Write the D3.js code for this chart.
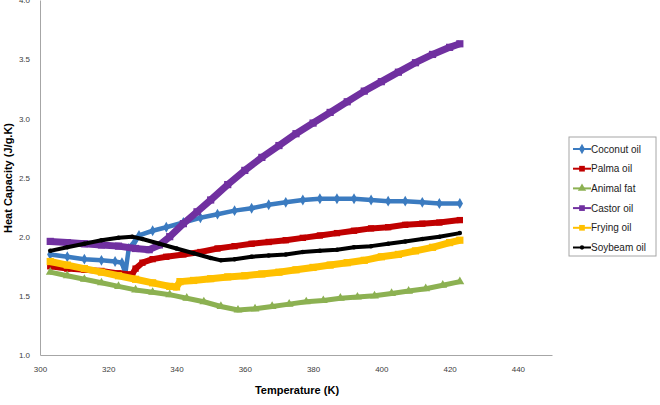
<!DOCTYPE html>
<html>
<head>
<meta charset="utf-8">
<script src="https://cdn.jsdelivr.net/npm/d3@7"></script>
<style>
  html, body { margin: 0; padding: 0; background: #fff; }
  svg { display: block; font-family: "Liberation Sans", Arial, sans-serif; }
</style>
</head>
<body>
<div id="chart"></div>
<script>
// ── Datos ──────────────────────────────────────
const xTicks = [300, 320, 340, 360, 380, 400, 420, 440];
const yTicks = [1.0, 1.5, 2.0, 2.5, 3.0, 3.5, 4.0];

const coconutT = [303, 308, 313, 318, 322, 324, 325, 326, 328, 329, 333, 337, 342, 347, 352, 357, 362, 367, 372, 377, 382, 387, 392, 397, 402, 407, 412, 417, 423];
const coconutV = [1.85, 1.83, 1.81, 1.80, 1.79, 1.78, 1.69, 1.90, 1.97, 2.01, 2.05, 2.08, 2.12, 2.16, 2.19, 2.22, 2.24, 2.27, 2.29, 2.31, 2.32, 2.32, 2.32, 2.31, 2.30, 2.30, 2.29, 2.28, 2.28];

const palmaT = [303, 308, 313, 318, 323, 327, 328, 330, 333, 337, 342, 347, 352, 357, 362, 367, 372, 377, 382, 387, 392, 397, 402, 407, 412, 417, 423];
const palmaV = [1.75, 1.73, 1.72, 1.71, 1.69, 1.68, 1.73, 1.78, 1.81, 1.83, 1.85, 1.87, 1.90, 1.92, 1.94, 1.955, 1.97, 1.99, 2.01, 2.03, 2.05, 2.07, 2.08, 2.10, 2.11, 2.12, 2.14];

const animalT = [303, 308, 313, 318, 323, 328, 333, 338, 343, 348, 353, 358, 363, 368, 373, 378, 383, 388, 393, 398, 403, 408, 413, 418, 423];
const animalV = [1.70, 1.67, 1.64, 1.61, 1.58, 1.55, 1.53, 1.51, 1.48, 1.45, 1.41, 1.38, 1.39, 1.41, 1.43, 1.45, 1.46, 1.48, 1.49, 1.50, 1.52, 1.54, 1.56, 1.59, 1.62];

const castorT = [303, 308, 313, 318, 323, 328, 332, 335, 338, 342, 346, 350, 355, 360, 365, 370, 375, 380, 385, 390, 395, 400, 405, 410, 415, 420, 423];
const castorV = [1.96, 1.95, 1.94, 1.93, 1.92, 1.90, 1.89, 1.93, 2.00, 2.11, 2.21, 2.31, 2.44, 2.56, 2.67, 2.77, 2.87, 2.96, 3.05, 3.14, 3.23, 3.31, 3.39, 3.47, 3.54, 3.60, 3.63];

const fryingT = [303, 308, 313, 318, 323, 328, 333, 338, 340, 341, 345, 350, 355, 360, 365, 370, 375, 380, 385, 390, 395, 400, 405, 410, 415, 420, 423];
const fryingV = [1.79, 1.76, 1.73, 1.70, 1.67, 1.64, 1.61, 1.58, 1.575, 1.62, 1.63, 1.645, 1.66, 1.67, 1.685, 1.70, 1.72, 1.74, 1.76, 1.78, 1.80, 1.83, 1.85, 1.88, 1.91, 1.95, 1.97];

const soyT = [303, 308, 313, 318, 323, 327, 330, 335, 340, 345, 350, 353, 357, 362, 367, 372, 377, 382, 387, 392, 397, 402, 407, 412, 417, 423];
const soyV = [1.88, 1.91, 1.94, 1.97, 1.99, 2.00, 1.98, 1.94, 1.90, 1.86, 1.82, 1.80, 1.81, 1.83, 1.84, 1.85, 1.87, 1.88, 1.89, 1.91, 1.92, 1.94, 1.96, 1.98, 2.00, 2.03];

const seriesNames = ["Coconut oil", "Palma oil", "Animal fat", "Castor oil", "Frying oil", "Soybeam oil"];

// ── Estilos ────────────────────────────────────
const series = [
  { name: seriesNames[0], t: coconutT, v: coconutV, color: "#3B7BC0", width: 4.5, symbol: d3.symbolDiamond, size: 34 },
  { name: seriesNames[1], t: palmaT, v: palmaV, color: "#C00000", width: 6, symbol: d3.symbolSquare, size: 40 },
  { name: seriesNames[2], t: animalT, v: animalV, color: "#8CB152", width: 5, symbol: d3.symbolTriangle, size: 34 },
  { name: seriesNames[3], t: castorT, v: castorV, color: "#7030A0", width: 7, symbol: d3.symbolSquare, size: 52 },
  { name: seriesNames[4], t: fryingT, v: fryingV, color: "#FFC000", width: 7, symbol: d3.symbolSquare, size: 52 },
  { name: seriesNames[5], t: soyT, v: soyV, color: "#000000", width: 4, symbol: d3.symbolCircle, size: 16 },
];

const width = 660, height = 405;
const plot = { left: 40, right: 552, top: 0, bottom: 355 };

const svg = d3.select("#chart").append("svg").attr("width", width).attr("height", height);

const x = d3.scaleLinear().domain([300, 450]).range([plot.left, plot.right]);
const y = d3.scaleLinear().domain([1.0, 4.0]).range([plot.bottom, plot.top]);

// Ejes
const gx = svg.append("g").attr("transform", `translate(0,${plot.bottom})`)
  .call(d3.axisBottom(x).tickValues(xTicks).tickSize(0).tickPadding(11).tickFormat(d3.format("d")));
const gy = svg.append("g").attr("transform", `translate(${plot.left},0)`)
  .call(d3.axisLeft(y).tickValues(yTicks).tickSize(0).tickPadding(10).tickFormat(d3.format(".1f")));

[gx, gy].forEach((g) => {
  g.select(".domain").attr("stroke", "#a6a6a6").attr("stroke-width", 1);
  g.selectAll("text").attr("font-size", "8px").attr("fill", "#404040").attr("font-family", "Liberation Sans, Arial, sans-serif");
});
gy.selectAll(".tick text").attr("dy", "0.35em");

// Títulos
svg.append("text").attr("x", 297).attr("y", 394).attr("text-anchor", "middle")
  .attr("font-size", "11px").attr("font-weight", "bold").text("Temperature (K)");
svg.append("text").attr("transform", "translate(12,178) rotate(-90)").attr("text-anchor", "middle")
  .attr("font-size", "11px").attr("font-weight", "bold").text("Heat Capacity (J/g.K)");

// Series
const line = d3.line().x((d) => x(d[0])).y((d) => y(d[1]));
const gLines = svg.append("g");
series.forEach((s) => {
  const pts = s.t.map((t, i) => [t, s.v[i]]);
  const g = gLines.append("g");
  g.append("path").attr("d", line(pts)).attr("fill", "none")
    .attr("stroke", s.color).attr("stroke-width", s.width).attr("stroke-linejoin", "round");
  g.selectAll("path.m").data(pts).join("path").attr("class", "m")
    .attr("transform", (d) => `translate(${x(d[0])},${y(d[1])})`)
    .attr("d", d3.symbol().type(s.symbol).size(s.size))
    .attr("fill", s.color);
});

// Leyenda
const lg = svg.append("g").attr("transform", "translate(569,137)");
lg.append("rect").attr("width", 87).attr("height", 119).attr("fill", "#fff").attr("stroke", "#a6a6a6");
series.forEach((s, i) => {
  const yy = 12 + i * 19.7;
  lg.append("line").attr("x1", 4).attr("x2", 22).attr("y1", yy).attr("y2", yy)
    .attr("stroke", s.color).attr("stroke-width", 2);
  lg.append("path").attr("transform", `translate(13,${yy})`)
    .attr("d", d3.symbol().type(s.symbol).size(Math.min(s.size, 36) * 0.9)).attr("fill", s.color);
  lg.append("text").attr("x", 22).attr("y", yy).attr("dy", "0.35em")
    .attr("font-size", "10px").attr("fill", "#222").text(s.name);
});
</script>
</body>
</html>
